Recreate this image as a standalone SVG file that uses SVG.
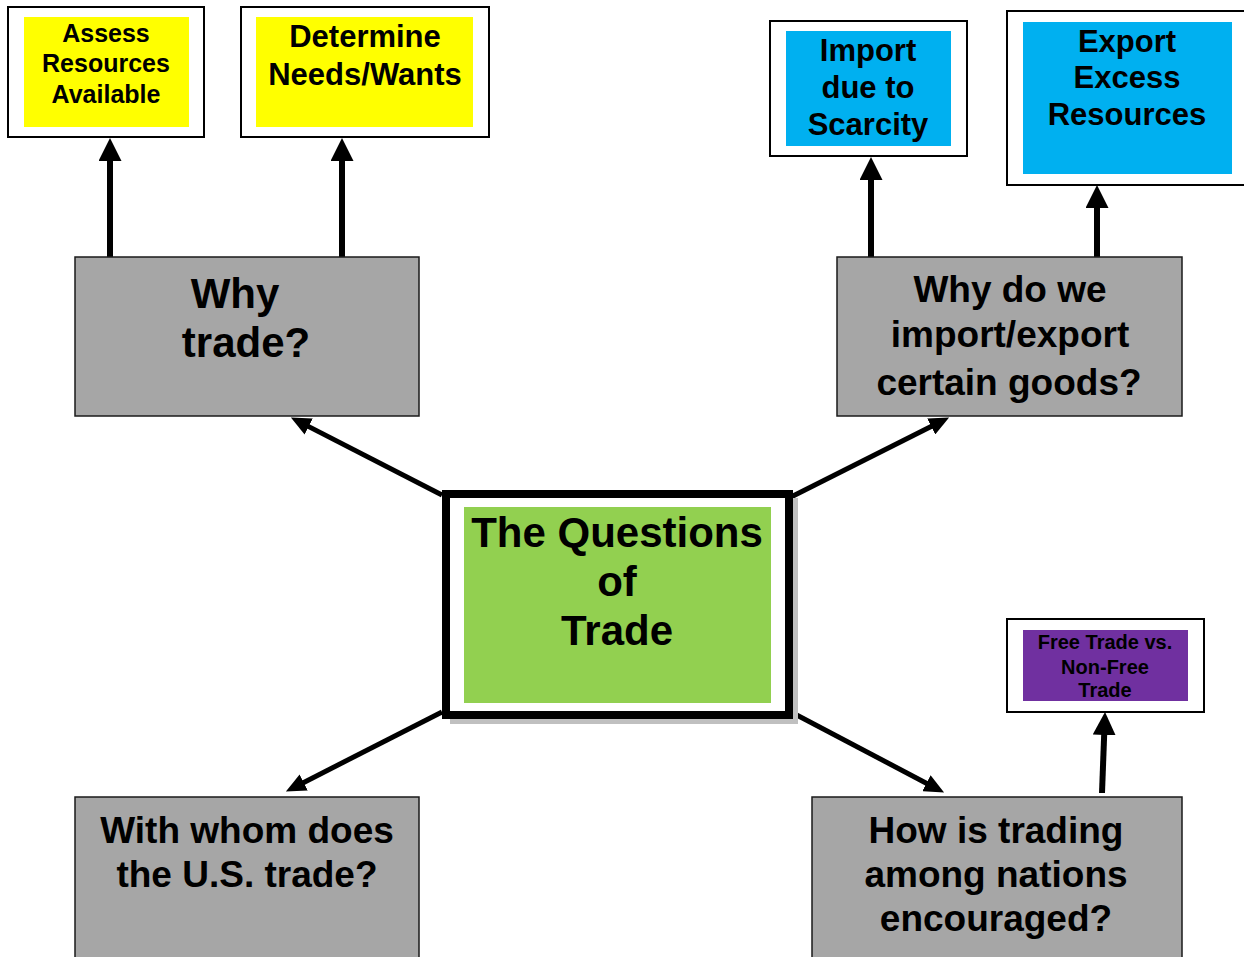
<svg xmlns="http://www.w3.org/2000/svg" width="1244" height="957" viewBox="0 0 1244 957">
<style>
.frame{fill:#ffffff;stroke:#000000;stroke-width:2}
.q{fill:#a6a6a6;stroke:#1a1a1a;stroke-width:1.5}
.t{font-family:"Liberation Sans",Arial,sans-serif;font-weight:bold;fill:#000000;text-anchor:middle}
.up{stroke:#000000;stroke-width:6;fill:none}
.dg{stroke:#000000;stroke-width:5;fill:none}
</style>
<defs>
<marker id="hv" markerUnits="userSpaceOnUse" viewBox="0 0 23 23" refX="1" refY="11.5" markerWidth="23" markerHeight="23" orient="auto">
<path d="M0,0 L23,11.5 L0,23 Z" fill="#000000"/>
</marker>
<marker id="hd" markerUnits="userSpaceOnUse" viewBox="0 0 20 18" refX="1" refY="9" markerWidth="20" markerHeight="18" orient="auto">
<path d="M0,0 L20,9 L0,18 Z" fill="#000000"/>
</marker>
</defs>
<rect width="1244" height="957" fill="#ffffff"/>

<g id="connectors">
<line class="up" x1="110" y1="260" x2="110" y2="160" marker-end="url(#hv)"/>
<line class="up" x1="342" y1="260" x2="342" y2="160" marker-end="url(#hv)"/>
<line class="up" x1="871" y1="257" x2="871" y2="179" marker-end="url(#hv)"/>
<line class="up" x1="1097" y1="257" x2="1097" y2="207" marker-end="url(#hv)"/>
<line class="up" x1="1102" y1="793" x2="1104.2" y2="734" marker-end="url(#hv)"/>
<line class="dg" x1="442" y1="495" x2="307.8" y2="426.1" marker-end="url(#hd)"/>
<line class="dg" x1="791" y1="497" x2="932.1" y2="426" marker-end="url(#hd)"/>
<line class="dg" x1="442" y1="712" x2="302.8" y2="782.9" marker-end="url(#hd)"/>
<line class="dg" x1="791" y1="712" x2="927.3" y2="783.7" marker-end="url(#hd)"/>
</g>

<g id="assess">
<rect class="frame" x="8" y="7" width="196" height="130"/>
<rect x="24" y="17" width="165" height="110" fill="#ffff00"/>
<text class="t" font-size="25" x="106" y="42">Assess</text>
<text class="t" font-size="25" x="106" y="72">Resources</text>
<text class="t" font-size="25" x="106" y="103">Available</text>
</g>

<g id="determine">
<rect class="frame" x="241" y="7" width="248" height="130"/>
<rect x="256" y="17" width="217" height="110" fill="#ffff00"/>
<text class="t" font-size="31" x="365" y="47">Determine</text>
<text class="t" font-size="31" x="365" y="85">Needs/Wants</text>
</g>

<g id="import">
<rect class="frame" x="770" y="21" width="197" height="135"/>
<rect x="786" y="31" width="165" height="115" fill="#00b0f0"/>
<text class="t" font-size="31" x="868" y="61">Import</text>
<text class="t" font-size="31" x="868" y="98">due to</text>
<text class="t" font-size="31" x="868" y="135">Scarcity</text>
</g>

<g id="export">
<rect class="frame" x="1007" y="11" width="250" height="174"/>
<rect x="1023" y="22" width="209" height="152" fill="#00b0f0"/>
<text class="t" font-size="31" x="1127" y="52">Export</text>
<text class="t" font-size="31" x="1127" y="88">Excess</text>
<text class="t" font-size="31" x="1127" y="125">Resources</text>
</g>

<g id="why-trade">
<rect class="q" x="75" y="257" width="344" height="159"/>
<text class="t" font-size="42" x="235" y="308">Why</text>
<text class="t" font-size="42" x="246" y="357">trade?</text>
</g>

<g id="why-import-export">
<rect class="q" x="837" y="257" width="345" height="159"/>
<text class="t" font-size="37" x="1010" y="302">Why do we</text>
<text class="t" font-size="37" x="1010" y="347">import/export</text>
<text class="t" font-size="37" x="1009" y="395">certain goods?</text>
</g>

<g id="center">
<rect x="450" y="498" width="348" height="226" fill="#c0c0c0"/>
<rect x="446" y="494" width="343" height="221" fill="#ffffff" stroke="#000000" stroke-width="8"/>
<rect x="464" y="507" width="307" height="196" fill="#92d050"/>
<text class="t" font-size="42" x="617" y="547">The Questions</text>
<text class="t" font-size="42" x="617" y="596">of</text>
<text class="t" font-size="42" x="617" y="645">Trade</text>
</g>

<g id="free-trade">
<rect class="frame" x="1007" y="619" width="197" height="93"/>
<rect x="1023" y="630" width="165" height="71" fill="#7030a0"/>
<text class="t" font-size="20" x="1105" y="649">Free Trade vs.</text>
<text class="t" font-size="20" x="1105" y="674">Non-Free</text>
<text class="t" font-size="20" x="1105" y="697">Trade</text>
</g>

<g id="with-whom">
<rect class="q" x="75" y="797" width="344" height="170"/>
<text class="t" font-size="37" x="247" y="843">With whom does</text>
<text class="t" font-size="37" x="247" y="887">the U.S. trade?</text>
</g>

<g id="how-encouraged">
<rect class="q" x="812" y="797" width="370" height="170"/>
<text class="t" font-size="37" x="996" y="843">How is trading</text>
<text class="t" font-size="37" x="996" y="887">among nations</text>
<text class="t" font-size="37" x="996" y="931">encouraged?</text>
</g>
</svg>
